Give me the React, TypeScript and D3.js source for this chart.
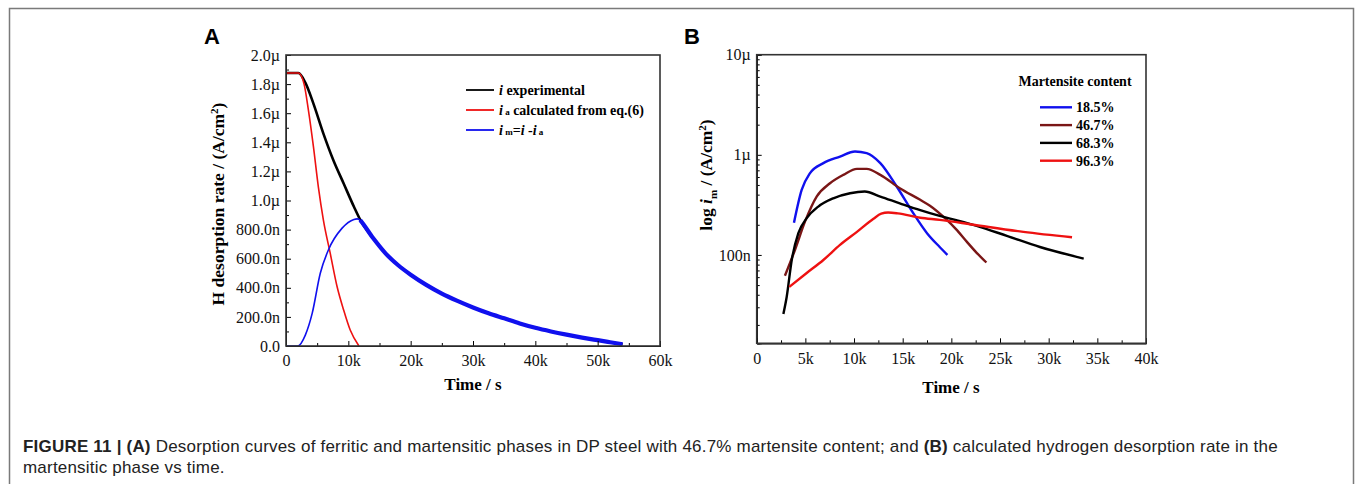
import React, { useEffect, useRef } from "react";
import * as d3 from "d3";

const W = 1355;
const H = 484;

// ---- panel A data (values in µA/cm², time in s) ----
const aTicksY = [0, 0.2, 0.4, 0.6, 0.8, 1.0, 1.2, 1.4, 1.6, 1.8, 2.0];
const aTickLabelsY = ["0.0", "200.0n", "400.0n", "600.0n", "800.0n", "1.0µ", "1.2µ", "1.4µ", "1.6µ", "1.8µ", "2.0µ"];
const aTicksX = [0, 10000, 20000, 30000, 40000, 50000, 60000];
const aTickLabelsX = ["0", "10k", "20k", "30k", "40k", "50k", "60k"];

const expT = [0, 2000, 3100, 4400, 6000, 7600, 9250, 10900, 12000, 14000, 16000, 18000, 20000, 22500, 25000, 27500, 30000, 32500, 35000, 37500, 40000, 42500, 45000, 47500, 50000, 52000, 54000];
const expV = [1.876, 1.876, 1.81, 1.666, 1.46, 1.277, 1.117, 0.957, 0.86, 0.74, 0.635, 0.555, 0.49, 0.42, 0.36, 0.31, 0.265, 0.225, 0.19, 0.155, 0.125, 0.1, 0.078, 0.058, 0.04, 0.026, 0.012];

const calcT = [0, 2000, 2900, 3600, 4400, 5200, 6000, 7100, 8200, 9250, 10300, 11700];
const calcV = [1.876, 1.876, 1.8, 1.62, 1.37, 1.09, 0.865, 0.636, 0.407, 0.247, 0.11, 0];

const marT = [0, 1900, 3100, 4200, 5500, 6800, 9000, 10900, 11400, 11900];
const marV = [0, 0, 0.075, 0.224, 0.5, 0.66, 0.81, 0.87, 0.874, 0.865];

// ---- panel B data (A/cm², time in s) ----
const bTicksX = [0, 5000, 10000, 15000, 20000, 25000, 30000, 35000, 40000];
const bTickLabelsX = ["0", "5k", "10k", "15k", "20k", "25k", "30k", "35k", "40k"];
const bTicksY = [1e-7, 1e-6, 1e-5];
const bTickLabelsY = ["100n", "1µ", "10µ"];

const contents = ["18.5%", "46.7%", "68.3%", "96.3%"];
const colorsB = ["#1010ee", "#7a1616", "#000000", "#ee1111"];

const t185 = [3830, 4620, 5480, 6850, 8560, 10100, 11300, 12700, 14400, 16100, 17500, 18800, 19600];
const v185 = [2.1e-7, 4.47e-7, 6.56e-7, 8.26e-7, 9.6e-7, 1.08e-6, 1.04e-6, 8.26e-7, 4.8e-7, 2.6e-7, 1.65e-7, 1.2e-7, 1.0e-7];

const t467 = [2900, 3930, 4960, 6160, 7530, 8900, 10300, 11300, 12700, 14700, 16800, 17800, 19400, 20500, 21600, 22600, 23600];
const v467 = [6.2e-8, 1.12e-7, 2.15e-7, 3.83e-7, 5.2e-7, 6.3e-7, 7.24e-7, 7.24e-7, 6.3e-7, 4.64e-7, 3.55e-7, 3.1e-7, 2.3e-7, 1.8e-7, 1.35e-7, 1.05e-7, 8.4e-8];

const t683 = [2740, 3080, 3600, 4280, 5140, 6330, 7870, 9590, 11100, 12700, 14700, 16800, 18800, 20500, 22600, 25700, 29100, 33600];
const v683 = [2.57e-8, 3.8e-8, 8.9e-8, 1.65e-7, 2.33e-7, 3.04e-7, 3.68e-7, 4.13e-7, 4.3e-7, 3.83e-7, 3.28e-7, 2.8e-7, 2.45e-7, 2.22e-7, 1.95e-7, 1.55e-7, 1.2e-7, 9.2e-8];

const t963 = [3350, 5140, 6850, 8560, 10300, 12000, 12800, 13500, 14500, 16800, 18800, 22300, 27400, 32400];
const v963 = [4.8e-8, 6.6e-8, 8.9e-8, 1.26e-7, 1.7e-7, 2.3e-7, 2.58e-7, 2.65e-7, 2.6e-7, 2.35e-7, 2.24e-7, 2.0e-7, 1.7e-7, 1.5e-7];

const serif = "'Liberation Serif', 'Times New Roman', serif";
const sans = "'Liberation Sans', Arial, sans-serif";

const App = () => {
  const ref = useRef<SVGSVGElement>(null);

  useEffect(() => {
    const svg = d3.select(ref.current);
    svg.selectAll("*").remove();

    // outer frame
    svg.append("path")
      .attr("d", `M9.5,${H} V8.5 H1353.5 V${H}`)
      .attr("fill", "none")
      .attr("stroke", "#7a7a7a")
      .attr("stroke-width", 1.5);

    // ===== panel A =====
    const xA = d3.scaleLinear().domain([0, 60000]).range([286, 660]);
    const yA = d3.scaleLinear().domain([0, 2.0]).range([346, 55]);
    const gA = svg.append("g");

    const lineA = d3.line<[number, number]>()
      .x((d) => xA(d[0]))
      .y((d) => yA(d[1]))
      .curve(d3.curveMonotoneX);

    const zip = (t: number[], v: number[]) => t.map((d, i) => [d, v[i]] as [number, number]);

    gA.append("path").attr("d", lineA(zip(expT, expV))!)
      .attr("fill", "none").attr("stroke", "#000").attr("stroke-width", 2.6);
    gA.append("path").attr("d", lineA(zip(calcT, calcV))!)
      .attr("fill", "none").attr("stroke", "#ee1111").attr("stroke-width", 1.6);
    gA.append("path").attr("d", lineA(zip(marT, marV))!)
      .attr("fill", "none").attr("stroke", "#1010ee").attr("stroke-width", 1.6);
    // after i_a reaches zero, i_m follows i (drawn thick)
    const tailIdx = expT.findIndex((t) => t >= 12000);
    gA.append("path").attr("d", lineA([[11900, 0.865], ...zip(expT.slice(tailIdx), expV.slice(tailIdx))])!)
      .attr("fill", "none").attr("stroke", "#1010ee").attr("stroke-width", 4.2);

    const axA_y = gA.append("g").attr("transform", "translate(286,0)")
      .call(d3.axisLeft(yA).tickValues(aTicksY).tickFormat((d, i) => aTickLabelsY[i]).tickSize(-5).tickPadding(6));
    gA.append("g").attr("transform", "translate(286,0)")
      .call(d3.axisLeft(yA).tickValues(d3.range(0.1, 2.0, 0.2)).tickFormat(() => "").tickSize(-3));
    const axA_x = gA.append("g").attr("transform", "translate(0,346)")
      .call(d3.axisBottom(xA).tickValues(aTicksX).tickFormat((d, i) => aTickLabelsX[i]).tickSize(-5).tickPadding(9));
    gA.append("g").attr("transform", "translate(0,346)")
      .call(d3.axisBottom(xA).tickValues(d3.range(5000, 60000, 10000)).tickFormat(() => "").tickSize(-3));
    [axA_y, axA_x].forEach((a) => a.selectAll("text").attr("font-family", serif).attr("font-size", 16).attr("fill", "#111"));

    gA.append("rect").attr("x", 286).attr("y", 55).attr("width", 374).attr("height", 291)
      .attr("fill", "none").attr("stroke", "#333").attr("stroke-width", 1.6);

    gA.append("text").attr("x", 473).attr("y", 390).attr("text-anchor", "middle")
      .attr("font-family", serif).attr("font-weight", "bold").attr("font-size", 17).text("Time / s");

    const ylabA = gA.append("text").attr("transform", "translate(224,204) rotate(-90)")
      .attr("text-anchor", "middle").attr("font-family", serif).attr("font-weight", "bold").attr("font-size", 17.5);
    ylabA.append("tspan").text("H desorption rate / (A/cm");
    ylabA.append("tspan").attr("dy", -6).attr("font-size", 11).text("2");
    ylabA.append("tspan").attr("dy", 6).text(")");

    gA.append("text").attr("x", 204).attr("y", 44).attr("font-family", sans).attr("font-weight", "bold")
      .attr("font-size", 22).text("A");

    // legend A
    const legA = gA.append("g").attr("font-family", serif).attr("font-weight", "bold").attr("font-size", 14);
    const legColors = ["#000", "#ee1111", "#1010ee"];
    legColors.forEach((c, i) => {
      const y = 90 + i * 20;
      legA.append("line").attr("x1", 466).attr("x2", 494).attr("y1", y).attr("y2", y)
        .attr("stroke", c).attr("stroke-width", 1.8);
    });
    const l1 = legA.append("text").attr("x", 499).attr("y", 95);
    l1.append("tspan").attr("font-style", "italic").text("i");
    l1.append("tspan").text(" experimental");
    const l2 = legA.append("text").attr("x", 499).attr("y", 115);
    l2.append("tspan").attr("font-style", "italic").text("i");
    l2.append("tspan").attr("font-size", 9).text(" a");
    l2.append("tspan").text(" calculated from eq.(6)");
    const l3 = legA.append("text").attr("x", 499).attr("y", 135);
    l3.append("tspan").attr("font-style", "italic").text("i");
    l3.append("tspan").attr("font-size", 9).text(" m");
    l3.append("tspan").text("=");
    l3.append("tspan").attr("font-style", "italic").text("i");
    l3.append("tspan").text(" -");
    l3.append("tspan").attr("font-style", "italic").text("i");
    l3.append("tspan").attr("font-size", 9).text(" a");

    // ===== panel B =====
    const xB = d3.scaleLinear().domain([0, 40000]).range([756.7, 1146]);
    const yB = d3.scaleLog().domain([1.31e-8, 1e-5]).range([343.3, 54.7]);
    const gB = svg.append("g");

    const lineB = d3.line<[number, number]>()
      .x((d) => xB(d[0]))
      .y((d) => yB(d[1]))
      .curve(d3.curveMonotoneX);

    const seriesB = [zip(t185, v185), zip(t467, v467), zip(t683, v683), zip(t963, v963)];
    seriesB.forEach((s, i) => {
      gB.append("path").attr("d", lineB(s)!).attr("fill", "none")
        .attr("stroke", colorsB[i]).attr("stroke-width", 2.4);
    });

    const minorB: number[] = [];
    [1e-8, 1e-7, 1e-6].forEach((d) => d3.range(2, 10).forEach((m) => { if (m * d > 1.31e-8) minorB.push(m * d); }));

    const axB_y = gB.append("g").attr("transform", "translate(756.7,0)")
      .call(d3.axisLeft(yB).tickValues(bTicksY).tickFormat((d, i) => bTickLabelsY[i]).tickSize(-5).tickPadding(6));
    gB.append("g").attr("transform", "translate(756.7,0)")
      .call(d3.axisLeft(yB).tickValues(minorB).tickFormat(() => "").tickSize(-3));
    const axB_x = gB.append("g").attr("transform", "translate(0,343.3)")
      .call(d3.axisBottom(xB).tickValues(bTicksX).tickFormat((d, i) => bTickLabelsX[i]).tickSize(-5).tickPadding(9));
    gB.append("g").attr("transform", "translate(0,343.3)")
      .call(d3.axisBottom(xB).tickValues(d3.range(2500, 40000, 5000)).tickFormat(() => "").tickSize(-3));
    [axB_y, axB_x].forEach((a) => a.selectAll("text").attr("font-family", serif).attr("font-size", 16).attr("fill", "#111"));

    gB.append("rect").attr("x", 756.7).attr("y", 54.7).attr("width", 389.3).attr("height", 288.6)
      .attr("fill", "none").attr("stroke", "#333").attr("stroke-width", 1.6);

    gB.append("text").attr("x", 951).attr("y", 393).attr("text-anchor", "middle")
      .attr("font-family", serif).attr("font-weight", "bold").attr("font-size", 17).text("Time / s");

    const ylabB = gB.append("text").attr("transform", "translate(712,175) rotate(-90)")
      .attr("text-anchor", "middle").attr("font-family", serif).attr("font-weight", "bold").attr("font-size", 17.5);
    ylabB.append("tspan").text("log  ");
    ylabB.append("tspan").attr("font-style", "italic").text("i");
    ylabB.append("tspan").attr("dy", 5).attr("font-size", 11).text("m");
    ylabB.append("tspan").attr("dy", -5).text(" / (A/cm");
    ylabB.append("tspan").attr("dy", -6).attr("font-size", 11).text("2");
    ylabB.append("tspan").attr("dy", 6).text(")");

    gB.append("text").attr("x", 684).attr("y", 44).attr("font-family", sans).attr("font-weight", "bold")
      .attr("font-size", 22).text("B");

    const legB = gB.append("g").attr("font-family", serif).attr("font-weight", "bold").attr("font-size", 14);
    legB.append("text").attr("x", 1075).attr("y", 86).attr("text-anchor", "middle").text("Martensite content");
    contents.forEach((c, i) => {
      const y = 107.3 + i * 17.8;
      legB.append("line").attr("x1", 1040).attr("x2", 1072).attr("y1", y).attr("y2", y)
        .attr("stroke", colorsB[i]).attr("stroke-width", 2.4);
      legB.append("text").attr("x", 1076).attr("y", y + 5).text(c);
    });

    // caption
    const cap = svg.append("g").attr("font-family", sans).attr("font-size", 17).attr("letter-spacing", 0.2).attr("fill", "#222");
    const c1 = cap.append("text").attr("x", 23).attr("y", 452);
    c1.append("tspan").attr("font-weight", "bold").text("FIGURE 11 | (A)");
    c1.append("tspan").text(" Desorption curves of ferritic and martensitic phases in DP steel with 46.7% martensite content; and ");
    c1.append("tspan").attr("font-weight", "bold").text("(B)");
    c1.append("tspan").text(" calculated hydrogen desorption rate in the");
    cap.append("text").attr("x", 23).attr("y", 473).text("martensitic phase vs time.");
  }, []);

  return (
    <svg ref={ref} width={W} height={H} viewBox={`0 0 ${W} ${H}`}
      style={{ position: "absolute", left: 0, top: 0, background: "#fff" }} />
  );
};

export default App;
